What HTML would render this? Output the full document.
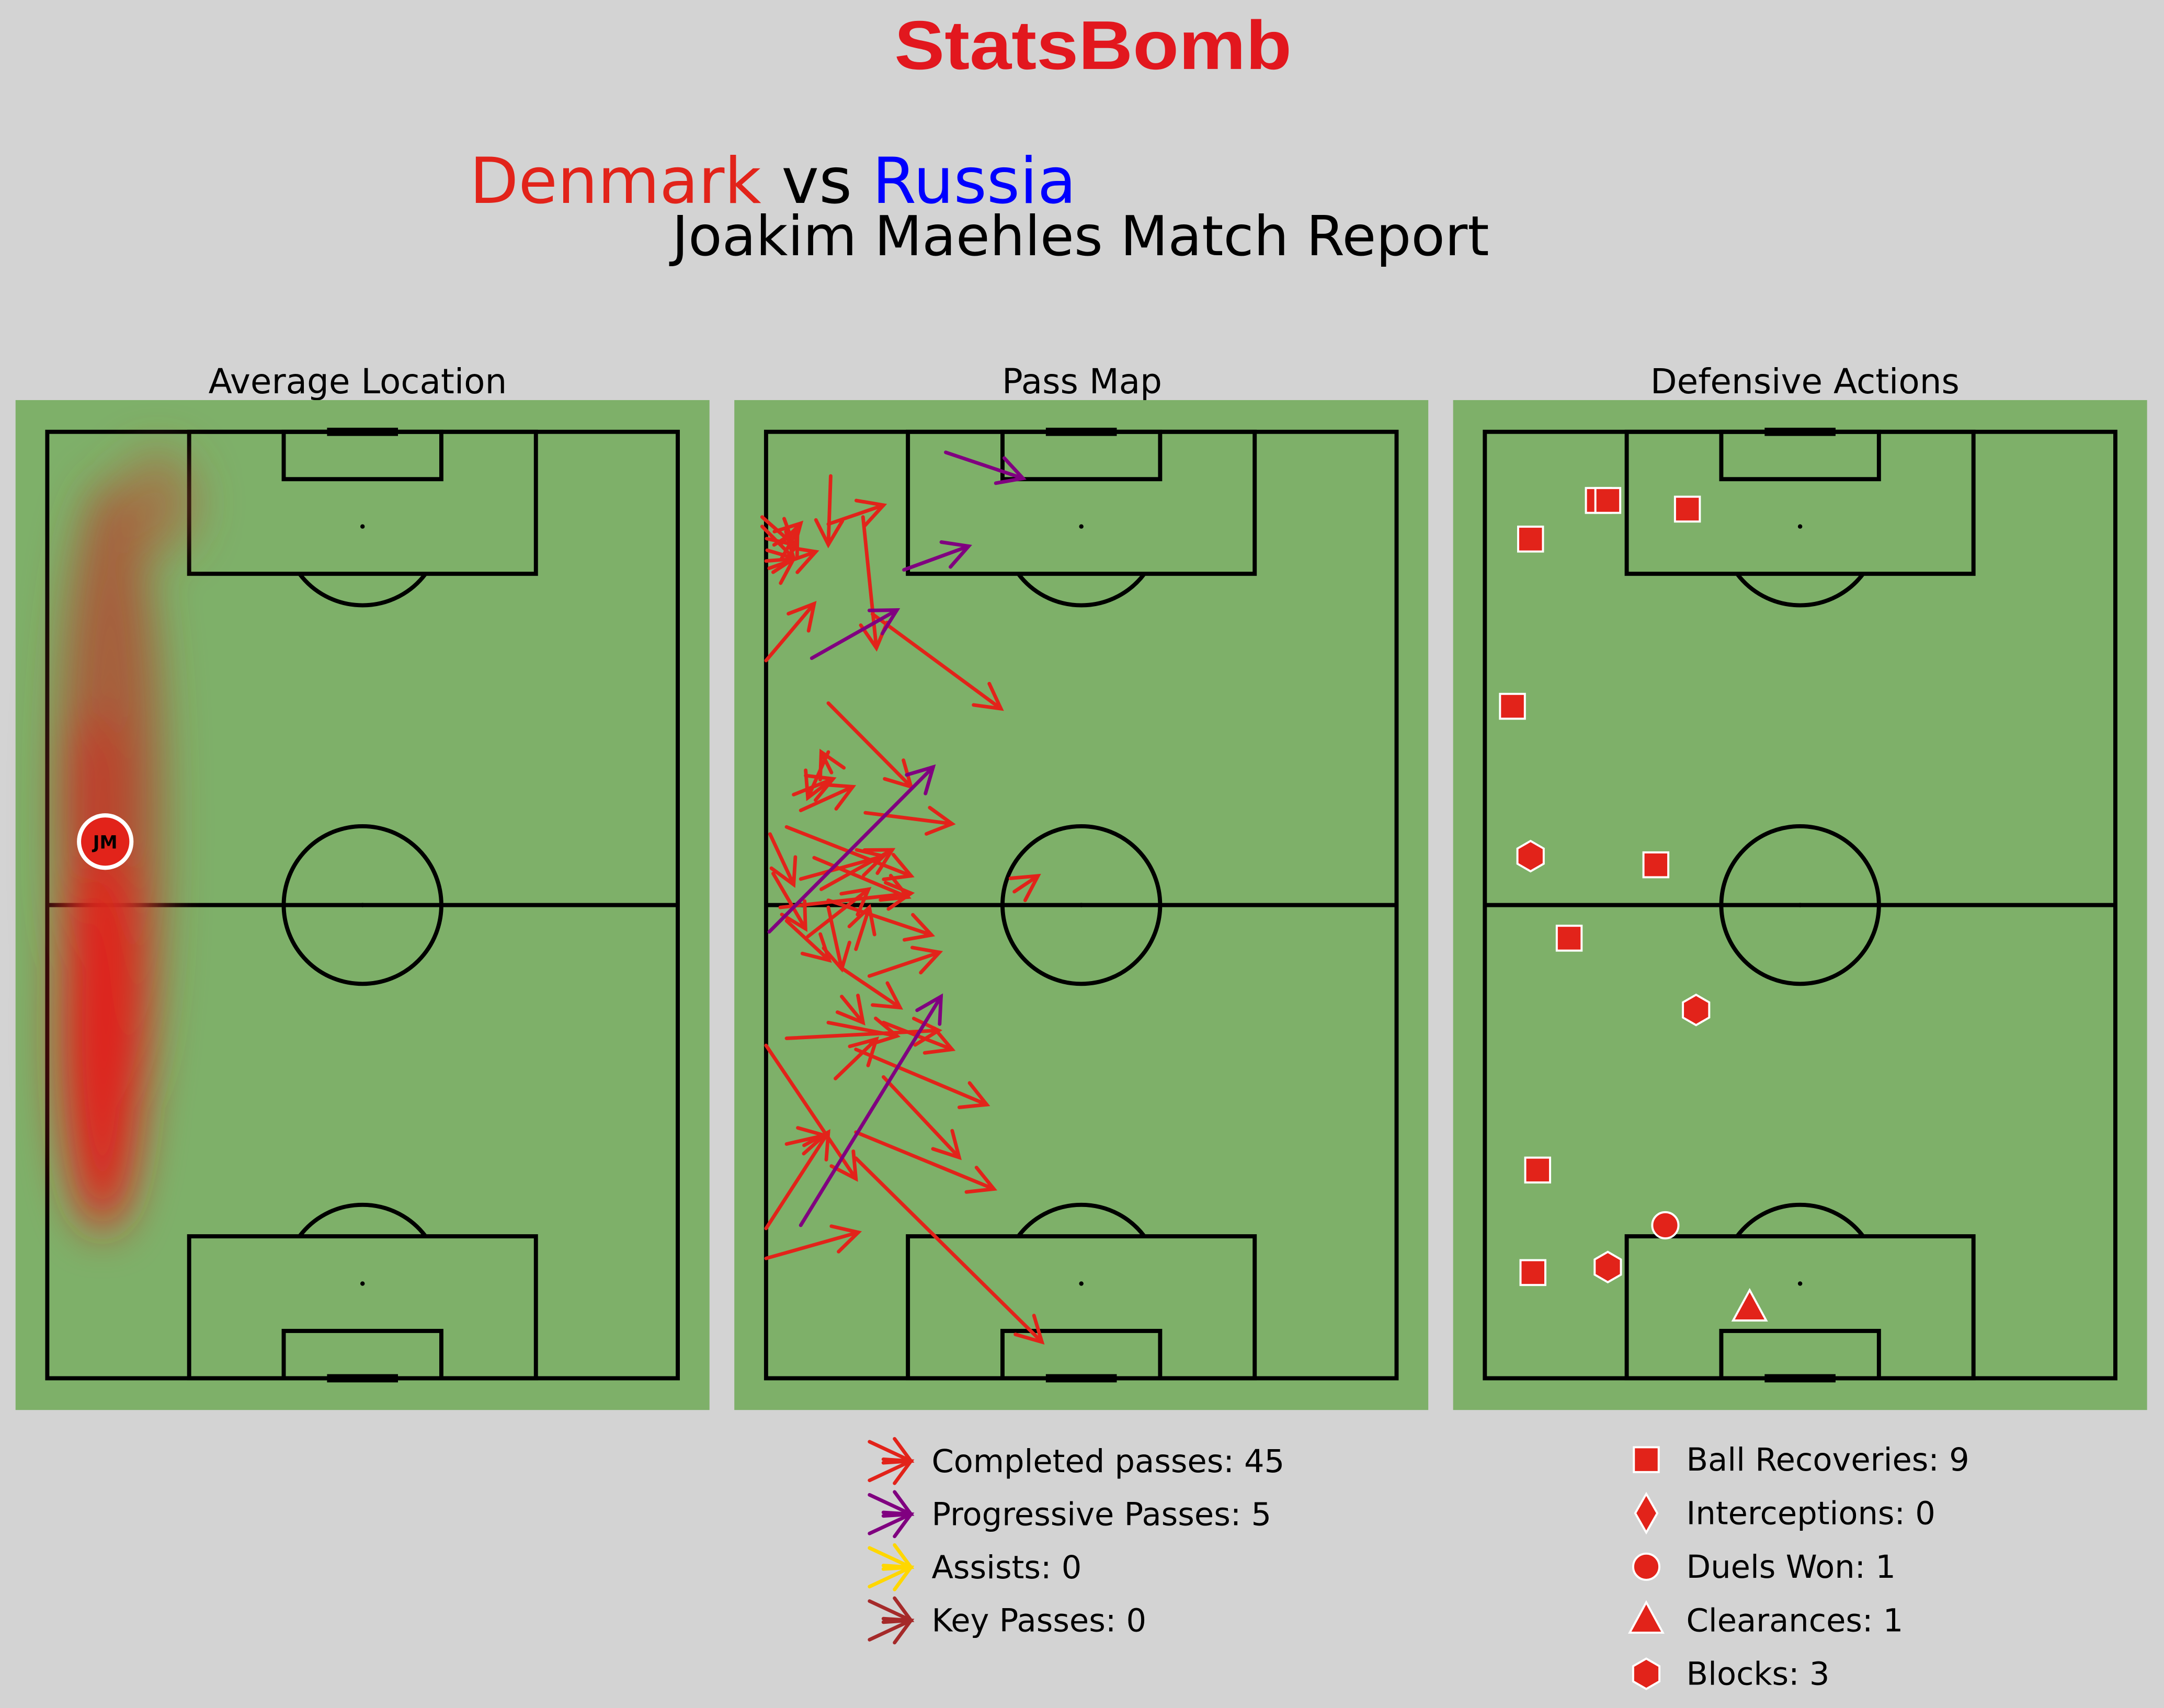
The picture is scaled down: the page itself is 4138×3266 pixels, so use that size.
<!DOCTYPE html>
<html><head><meta charset="utf-8"><style>
html,body{margin:0;padding:0;background:#d3d3d3;}
svg{display:block;}
text{font-family:"DejaVu Sans","Liberation Sans",sans-serif;}
</style></head><body>
<svg id="root" width="4138" height="3266" viewBox="0 0 1568 1238" xmlns="http://www.w3.org/2000/svg">
<defs>
<filter id="blur" x="-100%" y="-20%" width="300%" height="140%"><feGaussianBlur stdDeviation="16"/></filter>
</defs>
<rect width="1568" height="1238" fill="#d3d3d3"/>
<text x="648" y="50" textLength="288" lengthAdjust="spacingAndGlyphs" font-size="50" font-weight="bold" fill="#e2171e" style="font-family:'Liberation Sans',sans-serif">StatsBomb</text>
<text x="560" y="147" text-anchor="middle" font-size="46"><tspan fill="#e2231a">Denmark</tspan><tspan fill="#000"> vs </tspan><tspan fill="#0000ff">Russia</tspan></text>
<text x="783" y="185" text-anchor="middle" font-size="40" fill="#000">Joakim Maehles Match Report</text>
<text x="259" y="285" text-anchor="middle" font-size="25">Average Location</text>
<text x="784" y="285" text-anchor="middle" font-size="25">Pass Map</text>
<text x="1308" y="285" text-anchor="middle" font-size="25">Defensive Actions</text>
<g id="p1"></g>
<g id="p2"></g>
<g id="p3"></g>
<g id="legend1"></g>
<g id="legend2"></g>
</svg>
<script>
// Pass data in pitch units: x = width (0-80), y = length from top (0-120)
const passStartX=[0.0,13.5,7.9,-0.5,0.4,1.8,0.9,8.3,7.9,12.6,2.6,0.5,4.4,7.9,1.8,31.5,7.9,11.4,9.6,2.6,7.9,11.4,14.9,11.4,0.0,0.0,0.0,11.4,2.6,14.9,4.4,6.1,2.6,9.6,5.3,3.5,7.0,8.8,13.1,0.9,8.2,7.9,12.3,-0.5,2.0];
const passStartY=[29.0,23.1,34.4,10.8,17.3,14.3,17.8,43.2,40.6,48.3,50.1,51.0,56.7,59.4,60.3,58.3,60.3,65.6,71.6,76.9,74.9,78.3,81.8,88.8,101.0,104.8,77.8,92.1,90.3,74.9,48.0,54.0,62.0,68.0,64.0,46.0,58.0,82.0,69.0,56.0,5.6,11.7,10.8,12.0,16.0];
const passEndX=[6.1,29.8,18.4,3.5,6.3,4.4,3.5,7.0,5.3,23.6,18.4,3.5,14.9,21.0,18.4,34.5,9.6,13.1,12.3,21.9,16.6,28.0,24.5,28.9,7.9,11.7,11.4,35.0,7.4,23.6,11.0,18.0,8.0,17.0,13.0,8.5,16.0,14.0,22.0,5.0,7.9,14.9,14.0,3.5,4.0];
const passEndY=[21.8,35.1,45.0,14.3,15.2,11.6,16.1,40.6,46.4,49.7,56.3,57.4,53.8,63.8,58.5,56.3,68.1,60.3,74.9,75.9,76.6,85.3,92.0,96.0,88.8,101.5,94.7,115.4,89.2,78.3,45.0,59.0,67.0,73.0,58.0,44.0,53.0,77.0,66.0,63.0,14.3,9.3,27.4,16.0,12.5];
const progStartX=[22.8,17.5,5.8,0.4,4.4];
const progStartY=[2.6,17.5,28.7,63.4,100.6];
const progEndX=[32.6,25.7,16.6,21.2,22.2];
const progEndY=[5.9,14.5,22.6,42.5,71.6];
// Defensive actions (pitch units)
const recX=[5.8,14.4,15.6,25.7,3.5,21.7,10.7,6.7,6.1];
const recY=[13.6,8.7,8.7,9.8,34.8,54.9,64.2,93.6,106.6];
const blockX=[5.8,26.8,15.6];
const blockY=[53.8,73.3,105.9];
const duelX=[22.9];
const duelY=[100.6];
const clearX=[33.6];
const clearY=[111.1];
const legendPass=["Completed passes: 45","Progressive Passes: 5","Assists: 0","Key Passes: 0"];
const legendDef=["Ball Recoveries: 9","Interceptions: 0","Duels Won: 1","Clearances: 1","Blocks: 3"];

const NS="http://www.w3.org/2000/svg";
const PX0=[34,555,1076], PY0=313, SC=457/80, SCY=686/120;
function el(tag,attrs,parent){const e=document.createElementNS(NS,tag);for(const k in attrs)e.setAttribute(k,attrs[k]);parent.appendChild(e);return e;}
function sx(p,x){return PX0[p]+x*SC;}
function sy(y){return PY0+y*SCY;}

function drawPitch(p){
  const g=document.getElementById('p'+(p+1));
  const bg=el('rect',{x:PX0[p]-23,y:290,width:503,height:732,fill:'#7eb069'},g);
  
  
  const L={fill:'none',stroke:'#000','stroke-width':3};
  const lines=el('g',L,g);
  
  
  el('rect',{x:sx(p,0),y:sy(0),width:80*SC,height:120*SCY},lines);
  el('line',{x1:sx(p,0),y1:sy(60),x2:sx(p,80),y2:sy(60)},lines);
  el('circle',{cx:sx(p,40),cy:sy(60),r:10*SC},lines);
  [0,1].forEach(t=>{
    const yb=t?120:0, d=t?-1:1;
    el('rect',{x:sx(p,18),y:t?sy(102):sy(0),width:44*SC,height:18*SCY},lines);
    el('rect',{x:sx(p,30),y:t?sy(114):sy(0),width:20*SC,height:6*SCY},lines);
    el('circle',{cx:sx(p,40),cy:sy(yb+d*12),r:1.6,fill:'#000',stroke:'none'},lines);
    const r=10*SC, ye=sy(yb+d*18), yc=sy(yb+d*12), dy=Math.abs(ye-yc), dx=Math.sqrt(r*r-dy*dy);
    el('path',{d:`M${sx(p,40)-dx},${ye} A${r},${r} 0 0 ${t?1:0} ${sx(p,40)+dx},${ye}`},lines);
    el('line',{x1:sx(p,35.5),y1:sy(yb),x2:sx(p,44.5),y2:sy(yb),'stroke-width':6},lines);
  });
  el('circle',{cx:sx(p,40),cy:sy(60),r:1.6,fill:'#000',stroke:'none'},lines);
}
[0,1,2].forEach(drawPitch);

// Heatmap (panel 1)
const g1=document.getElementById('p1');
const hm=el('g',{filter:'url(#blur)'},g1);


el('ellipse',{cx:sx(0,8),cy:sy(50),rx:38,ry:250,fill:'#b04a30',opacity:0.8},hm);
el('ellipse',{cx:sx(0,14),cy:sy(9),rx:28,ry:38,fill:'#b05a35',opacity:0.6},hm);
el('ellipse',{cx:sx(0,7),cy:sy(76),rx:30,ry:145,fill:'#e0201a'},hm);
el('ellipse',{cx:sx(0,6),cy:sy(46),rx:20,ry:60,fill:'#c83525',opacity:0.8},hm);
const mk=el('circle',{cx:76,cy:610,r:19,fill:'#e2231a',stroke:'#fff','stroke-width':3},g1);


const mt=el('text',{x:76,y:615,'text-anchor':'middle','font-size':13,'font-weight':'bold',fill:'#000'},g1);
mt.textContent='JM';



function arrow(g,x1,y1,x2,y2,color,name){
  const a=el('g',{stroke:color,'stroke-width':2.6,fill:'none','stroke-linecap':'round'},g);
  
  
  el('line',{x1,y1,x2,y2},a);
  const ang=Math.atan2(y2-y1,x2-x1), h=20, s=0.5;
  el('polyline',{points:`${x2-h*Math.cos(ang-s)},${y2-h*Math.sin(ang-s)} ${x2},${y2} ${x2-h*Math.cos(ang+s)},${y2-h*Math.sin(ang+s)}`},a);
}
const g2=document.getElementById('p2');
for(let i=0;i<passStartX.length;i++) arrow(g2,sx(1,passStartX[i]),sy(passStartY[i]),sx(1,passEndX[i]),sy(passEndY[i]),'#e2231a','completed-pass');
for(let i=0;i<progStartX.length;i++) arrow(g2,sx(1,progStartX[i]),sy(progStartY[i]),sx(1,progEndX[i]),sy(progEndY[i]),'#800080','progressive-pass');

const g3=document.getElementById('p3');
const M={fill:'#e2231a',stroke:'#fff','stroke-width':1.5};
function hexPts(cx,cy,r){let s=[];for(let k=0;k<6;k++){const a=Math.PI/6+k*Math.PI/3;s.push((cx+r*Math.cos(a))+','+(cy+r*Math.sin(a)));}return s.join(' ');}
for(let i=0;i<recX.length;i++){const e=el('rect',Object.assign({x:sx(2,recX[i])-9,y:sy(recY[i])-9,width:18,height:18},M),g3);}
for(let i=0;i<blockX.length;i++){const e=el('polygon',Object.assign({points:hexPts(sx(2,blockX[i]),sy(blockY[i]),11)},M),g3);}
for(let i=0;i<duelX.length;i++){const e=el('circle',Object.assign({cx:sx(2,duelX[i]),cy:sy(duelY[i]),r:9.5},M),g3);}
for(let i=0;i<clearX.length;i++){const cx=sx(2,clearX[i]),cy=sy(clearY[i]);const e=el('polygon',Object.assign({points:`${cx},${cy-13} ${cx+12},${cy+9} ${cx-12},${cy+9}`},M),g3);}

// Legends
const lg1=document.getElementById('legend1');
const lc=['#e2231a','#800080','#ffd700','#a52a2a'];
legendPass.forEach((t,i)=>{
  const y=1059+i*38.5;
  arrow(lg1,630,y-14,660,y,lc[i],'legend-arrow');
  arrow(lg1,630,y+14,660,y,lc[i],'legend-arrow');
  const tx=el('text',{x:675,y:y+8,'font-size':23,fill:'#000'},lg1);
  tx.textContent=t;
  
  
});
const lg2=document.getElementById('legend2');
legendDef.forEach((t,i)=>{
  const y=1058+i*38.8, cx=1193;
  let e;
  if(i==0) e=el('rect',Object.assign({x:cx-9,y:y-9,width:18,height:18},M),lg2);
  else if(i==1) e=el('polygon',Object.assign({points:`${cx},${y-14} ${cx+8},${y} ${cx},${y+14} ${cx-8},${y}`},M),lg2);
  else if(i==2) e=el('circle',Object.assign({cx,cy:y,r:9.5},M),lg2);
  else if(i==3) e=el('polygon',Object.assign({points:`${cx},${y-13} ${cx+12},${y+9} ${cx-12},${y+9}`},M),lg2);
  else e=el('polygon',Object.assign({points:hexPts(cx,y,11)},M),lg2);
  
  
  const tx=el('text',{x:1222,y:y+8,'font-size':23,fill:'#000'},lg2);
  tx.textContent=t;
  
  
});
</script>
</body></html>
